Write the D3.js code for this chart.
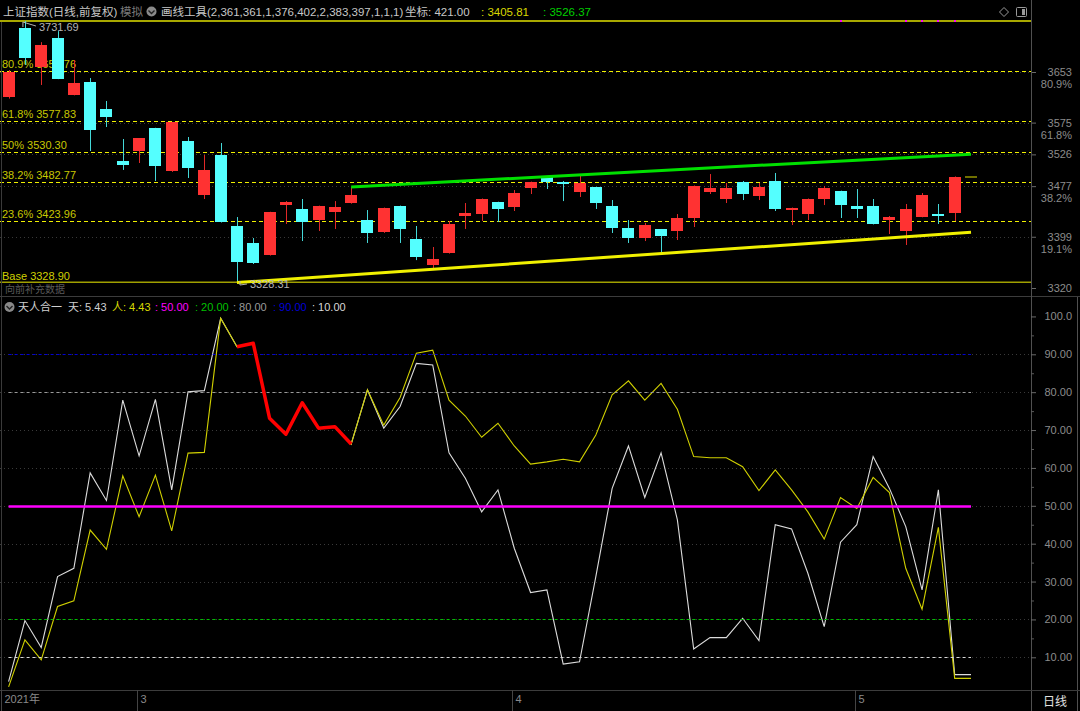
<!DOCTYPE html>
<html><head><meta charset="utf-8">
<script src="https://cdn.jsdelivr.net/npm/d3@7"></script>
<style>html,body{margin:0;padding:0;background:#000;overflow:hidden}</style>
</head><body><svg id="c" width="1080" height="711"></svg>
<script>
// ---------------- DATA ----------------
const dates = ["2021-02-10","2021-02-18","2021-02-19","2021-02-22","2021-02-23","2021-02-24","2021-02-25","2021-02-26",
"2021-03-01","2021-03-02","2021-03-03","2021-03-04","2021-03-05","2021-03-08","2021-03-09","2021-03-10","2021-03-11","2021-03-12",
"2021-03-15","2021-03-16","2021-03-17","2021-03-18","2021-03-19","2021-03-22","2021-03-23","2021-03-24","2021-03-25","2021-03-26",
"2021-03-29","2021-03-30","2021-03-31","2021-04-01","2021-04-02","2021-04-06","2021-04-07","2021-04-08","2021-04-09","2021-04-12",
"2021-04-13","2021-04-14","2021-04-15","2021-04-16","2021-04-19","2021-04-20","2021-04-21","2021-04-22","2021-04-23","2021-04-26",
"2021-04-27","2021-04-28","2021-04-29","2021-04-30","2021-05-06","2021-05-07","2021-05-10","2021-05-11","2021-05-12","2021-05-13","2021-05-14"];
const openV = [3614,3720.8,3660.7,3705.4,3617.5,3637.6,3596,3515.8,3531.2,3566.7,3500.4,3546.6,3463.4,3525,3415.6,3389.4,3370.9,3448,3441.8,3424.8,
3437.1,3451,3424.8,3406.3,3446.4,3395.5,3355.4,3373.9,3431,3434,3452.6,3444.9,3474.2,3491.1,3483.4,3468,3475.7,3446.4,3412.5,3397,
3411,3407.9,3427.9,3468,3457.2,3483.4,3461.8,3485,3440.2,3434,3457.2,3469.5,3446.4,3446.4,3424.8,3407.9,3429.4,3434,3435.6];
const highV = [3656,3731.69,3699,3716,3671.5,3643.7,3608.3,3549.7,3551.2,3567,3576,3552.8,3525,3543.5,3429.4,3397,3437.5,3454,3457.2,3447,
3454,3475.7,3440.2,3444,3447,3415.6,3383.2,3423.3,3451,3458,3453,3471,3484,3492,3485,3494.2,3476,3455.6,3424.8,3420.3,
3411,3434,3478,3495.7,3481.9,3485,3481.9,3497.3,3444,3458,3477.2,3470,3472.6,3457.2,3431,3449.5,3466.4,3449.5,3492];
const lowV = [3612,3664,3633,3642,3617,3531.2,3568.2,3502,3512.7,3485,3499,3489.6,3457.2,3421,3328.31,3357,3370,3418.7,3392.4,3407.9,
3411,3450,3389.4,3405,3389.4,3363,3347.7,3373,3411,3423.3,3421.7,3438.7,3464.9,3472.6,3454,3460.3,3441.8,3404.8,3389.4,3392.4,
3373.9,3394,3414,3464.9,3451,3455.6,3455.6,3438.7,3417.1,3424.8,3447.9,3427.9,3427.9,3418,3403.2,3386.3,3429,3418.7,3423.3];
const closeV = [3653,3674.6,3694.6,3642.2,3636,3563.6,3583.6,3509.6,3551.2,3508,3575.9,3505,3502,3421.7,3360,3358.5,3437.1,3452.6,3421.7,3446.4,
3444.9,3463.4,3404.8,3443.3,3411,3367.8,3364.7,3418.7,3435.6,3457.2,3441.8,3466.4,3483.4,3483.4,3480.3,3481.9,3451,3412.5,3397,3417.1,
3400.1,3427.9,3477.2,3474.2,3474.2,3464.9,3475.7,3441.8,3443.3,3457.2,3474.2,3447.9,3441.8,3418.7,3429.4,3441.8,3463.4,3431,3491.1];

// indicator 天人合一 (60 slots, last is the pending day)
const tianV = [3.6,19.7,12.6,31.3,33.5,58.7,51.4,77.9,63.2,78.1,54.2,80.1,80.4,99.5,92.0,92.9,73.1,68.9,77.2,70.5,
70.9,66.3,80.6,70.5,76.2,87.6,87.2,64.0,57.3,48.4,54.2,38.8,27.1,27.8,8.2,8.8,31.3,54.6,65.8,52.2,
64.0,46.3,12.2,15.2,15.2,20.3,14.4,45.0,43.9,32.2,18.1,40.4,45.0,63.0,54.6,44.5,27.8,54.2,5.43,5.43];
const renV = [2.2,14.6,9.3,23.4,24.9,43.6,38.5,57.9,47.1,58.1,43.4,63.9,64.1,99.5,92.0,92.9,73.1,68.9,77.2,70.5,
70.9,66.3,80.6,71.3,78.6,90.3,91.1,77.9,73.7,68.1,71.8,65.8,61.0,61.6,62.3,61.6,68.7,79.3,83.0,77.9,
82.3,75.5,63.0,62.7,62.7,60.3,54.0,59.5,54.2,48.4,41.2,52.2,49.3,57.5,53.5,33.5,22.7,44.3,4.43,4.43];
const redRange = [14, 21];

const fibPct = ["80.9%","61.8%","50%","38.2%","23.6%"];
const fibVal = [3654.76,3577.83,3530.30,3482.77,3423.96];
const baseVal = 3328.90, topVal = 3731.69;
const greenTrend = [[21,3475.7],[59,3526.37]];
const yellowTrend = [[14,3328.31],[59,3405.81]];
const markIdx = [51,55,56,57,58];

const priceTicks = [3653,3575,3526,3477,3399,3320];
const priceTickPct = ["80.9%","61.8%","","38.2%","19.1%",""];
const indTicks = [100,90,80,70,60,50,40,30,20,10];
const indMinor = [95,85,75,65,55,45,35,25,15,5];
const refLevels = [50,20,80,90,10];
const refColors = ["#ff00ff","#00c000","#9a9a9a","#0000d8","#d8d8d8"];
const monthIdx = [0,8,31,52];
const monthLabel = ["2021年","3","4","5"];

// ---------------- DRAW ----------------
const W=1080,H=711, AX=1031;
const FONT='"Liberation Sans","Noto Sans CJK SC",Arial,sans-serif';
const svg=d3.select("#c").style("font-family",FONT);
svg.append("rect").attr("width",W).attr("height",H).attr("fill","#000");

const x=d3.scaleLinear().domain([0,59]).range([8.6,971]);
const yP=d3.scaleLinear().domain([3320,3653]).range([288,72]);
const yI=d3.scaleLinear().domain([10,90]).range([657.3,354.3]);
const cx=i=>Math.round(x(i))+0.5;

const defs=svg.append("defs");
defs.append("clipPath").attr("id","cp").append("rect").attr("x",0).attr("y",20).attr("width",AX).attr("height",275);
defs.append("clipPath").attr("id","ci").append("rect").attr("x",0).attr("y",316).attr("width",AX).attr("height",374);

// ---- header ----
const hdr=svg.append("g").attr("font-size","11.5px");
hdr.append("text").attr("x",3).attr("y",16).attr("fill","#c8c8c8").text("上证指数(日线,前复权)");
hdr.append("text").attr("x",120).attr("y",16).attr("fill","#7a7a7a").text("模拟");
hdr.append("circle").attr("cx",151.5).attr("cy",11.5).attr("r",5).attr("fill","#8a8a8a");
hdr.append("path").attr("d","M148.5,10.5 L151.5,13.5 L154.5,10.5").attr("stroke","#222").attr("stroke-width",1.4).attr("fill","none");
hdr.append("text").attr("x",161).attr("y",16).attr("fill","#c8c8c8").text("画线工具(2,361,361,1,376,402,2,383,397,1,1,1)");
hdr.append("text").attr("x",405).attr("y",16).attr("fill","#c8c8c8").text("坐标: 421.00");
hdr.append("text").attr("x",481).attr("y",16).attr("fill","#d8d800").text(": "+yellowTrend[1][1].toFixed(2));
hdr.append("text").attr("x",543).attr("y",16).attr("fill","#00d000").text(": "+greenTrend[1][1].toFixed(2));
hdr.append("path").attr("d","M1004,7.5 L1008.5,12 L1004,16.5 L999.5,12 Z").attr("stroke","#9a9a9a").attr("fill","none");
hdr.append("rect").attr("x",1016.5).attr("y",7.5).attr("width",10).attr("height",9).attr("stroke","#9a9a9a").attr("fill","none").attr("rx",1);
hdr.append("rect").attr("x",1022).attr("y",9).attr("width",3).attr("height",6).attr("fill","#9a9a9a");

// ---- price pane ----
const pp=svg.append("g").attr("clip-path","url(#cp)");
pp.selectAll("line.pg").data(priceTicks.slice(0,5)).join("line")
  .attr("x1",0).attr("x2",AX).attr("y1",d=>Math.round(yP(d))+0.5).attr("y2",d=>Math.round(yP(d))+0.5)
  .attr("stroke","#383838").attr("stroke-dasharray","1,3");
pp.selectAll("line.fib").data(fibVal).join("line")
  .attr("x1",0).attr("x2",AX).attr("y1",d=>Math.round(yP(d))+0.5).attr("y2",d=>Math.round(yP(d))+0.5)
  .attr("stroke","#f0f000").attr("stroke-width",1.1).attr("stroke-dasharray","4,3");
pp.append("line").attr("x1",0).attr("x2",AX).attr("y1",yP(topVal)).attr("y2",yP(topVal)).attr("stroke","#e0e000").attr("stroke-width",1.5);
pp.append("line").attr("x1",0).attr("x2",AX).attr("y1",yP(baseVal)).attr("y2",yP(baseVal)).attr("stroke","#a0a000").attr("stroke-width",1.6);
pp.selectAll("text.fib").data(fibVal).join("text")
  .attr("x",2).attr("y",d=>yP(d)-3).attr("fill","#c8c800").attr("font-size","11px")
  .text((d,i)=>fibPct[i]+" "+d.toFixed(2));
pp.append("text").attr("x",5).attr("y",293).attr("fill","#5a5a5a").attr("font-size","10px").text("向前补充数据");
pp.append("text").attr("x",2).attr("y",280).attr("fill","#d0d000").attr("font-size","11px").text("Base "+baseVal.toFixed(2));

// candles
const UP="#ff3232", DN="#54ffff";
const cg=pp.append("g");
const idx=d3.range(closeV.length);
cg.selectAll("line.w").data(idx).join("line")
  .attr("x1",cx).attr("x2",cx).attr("y1",i=>yP(highV[i])).attr("y2",i=>yP(lowV[i]))
  .attr("stroke",i=>closeV[i]>=openV[i]?"#e02828":"#44d8d8");
cg.selectAll("rect.b").data(idx).join("rect")
  .attr("x",i=>Math.round(x(i))-6).attr("width",12)
  .attr("y",i=>Math.round(yP(Math.max(openV[i],closeV[i]))))
  .attr("height",i=>Math.max(1.5,Math.round(Math.abs(yP(openV[i])-yP(closeV[i])))))
  .attr("fill",i=>closeV[i]>=openV[i]?UP:DN);
const last=closeV.length-1;
pp.append("line").attr("x1",x(59)-6).attr("x2",x(59)+6).attr("y1",yP(closeV[last])).attr("y2",yP(closeV[last]))
  .attr("stroke","#707000").attr("stroke-width",2);

// trend lines
const tl=d3.line().x(d=>x(d[0])).y(d=>yP(d[1]));
pp.append("path").attr("d",tl(greenTrend)).attr("stroke","#00e000").attr("stroke-width",3).attr("fill","none");
pp.append("path").attr("d",tl(yellowTrend)).attr("stroke","#f0f000").attr("stroke-width",3).attr("fill","none");

// high / low annotations
const hi=d3.maxIndex(highV), lo=d3.minIndex(lowV);
pp.append("path").attr("d",`M${x(hi)-2},27 L${x(hi)-2},22 L${x(hi)+11},26`).attr("stroke","#b0b0b0").attr("fill","none");
pp.append("text").attr("x",x(hi)+14).attr("y",31).attr("fill","#b4b4b4").attr("font-size","11px").text(highV[hi].toFixed(2));
pp.append("path").attr("d",`M${x(lo)+3},281 L${x(lo)+3},285 L${x(lo)+10},284`).attr("stroke","#b0b0b0").attr("fill","none");
pp.append("text").attr("x",x(lo)+13).attr("y",288).attr("fill","#b4b4b4").attr("font-size","11px").text(lowV[lo].toFixed(2));

svg.selectAll("rect.mk").data(markIdx).join("rect")
  .attr("x",i=>Math.round(x(i))-1).attr("y",20).attr("width",2).attr("height",2).attr("fill","#ff00ff");

// price right axis
const pa=svg.append("g").attr("transform",`translate(${AX},0)`)
  .call(d3.axisRight(yP).tickValues(priceTicks).tickSize(5).tickFormat(d3.format("d")));
pa.select(".domain").remove();
pa.selectAll(".tick line").attr("stroke","#6a6a6a");
pa.selectAll(".tick text").attr("x",41).attr("text-anchor","end").attr("fill","#8c8c8c")
  .attr("font-size","11px").attr("font-family",FONT);
pa.selectAll(".tick").append("text").attr("x",41).attr("y",12).attr("dy","0.32em").attr("text-anchor","end")
  .attr("fill","#8c8c8c").attr("font-size","11px").attr("font-family",FONT).text((d,i)=>priceTickPct[i]);

// ---- separators ----
svg.append("line").attr("x1",0).attr("x2",W).attr("y1",296.5).attr("y2",296.5).attr("stroke","#3c3c3c");
svg.append("line").attr("x1",AX+0.5).attr("x2",AX+0.5).attr("y1",0).attr("y2",H).attr("stroke","#505050");
svg.append("line").attr("x1",1077.5).attr("x2",1077.5).attr("y1",297).attr("y2",H).attr("stroke","#505050");
svg.append("line").attr("x1",1.5).attr("x2",1.5).attr("y1",22).attr("y2",690).attr("stroke","#3a3a3a");

// ---- indicator header ----
const ih=svg.append("g").attr("font-size","11px");
ih.append("circle").attr("cx",9.5).attr("cy",307).attr("r",5).attr("fill","#8a8a8a");
ih.append("path").attr("d","M6.5,306 L9.5,309 L12.5,306").attr("stroke","#222").attr("stroke-width",1.4).attr("fill","none");
ih.append("text").attr("x",18).attr("y",311).attr("fill","#d0d0d0").text("天人合一");
ih.append("text").attr("x",68).attr("y",311).attr("fill","#d0d0d0").text("天: "+tianV[59].toFixed(2));
ih.append("text").attr("x",112).attr("y",311).attr("fill","#d8d800").text("人: "+renV[59].toFixed(2));
const refX=[155,195,233,273,312];
refLevels.forEach((v,i)=>ih.append("text").attr("x",refX[i]).attr("y",311).attr("fill",refColors[i]).text(": "+v.toFixed(2)));

// ---- indicator pane ----
const ip=svg.append("g").attr("clip-path","url(#ci)");
ip.selectAll("line.ig").data(indTicks.slice(1)).join("line")
  .attr("x1",0).attr("x2",AX).attr("y1",d=>Math.round(yI(d))+0.5).attr("y2",d=>Math.round(yI(d))+0.5)
  .attr("stroke","#3a3a3a").attr("stroke-dasharray","1,3");
const ln=d3.line().x((d,i)=>x(i)).y(d=>yI(d));
ip.append("path").attr("d",ln(tianV)).attr("stroke","#dcdcdc").attr("stroke-width",1.1).attr("fill","none");
ip.append("path").attr("d",ln(renV)).attr("stroke","#d0d000").attr("stroke-width",1.1).attr("fill","none");
refLevels.forEach((v,i)=>{
  const yy=Math.round(yI(v))+0.5;
  ip.append("line").attr("x1",x(0)).attr("x2",x(59)).attr("y1",yy).attr("y2",yy)
    .attr("stroke",refColors[i]).attr("stroke-width",v===50?2.5:1)
    .attr("stroke-dasharray",v===50?null:"3,3");
});
const redLn=d3.line().x((d,i)=>x(i+redRange[0])).y(d=>yI(d));
ip.append("path").attr("d",redLn(renV.slice(redRange[0],redRange[1]+1)))
  .attr("stroke","#ff0000").attr("stroke-width",3.5).attr("fill","none").attr("stroke-linejoin","round");

// indicator right axis
const ia=svg.append("g").attr("transform",`translate(${AX},0)`)
  .call(d3.axisRight(yI).tickValues(indTicks).tickSize(5).tickFormat(d=>d===100?"100.0":d.toFixed(2)));
ia.select(".domain").remove();
ia.selectAll(".tick line").attr("stroke","#6a6a6a");
ia.selectAll(".tick text").attr("x",41).attr("text-anchor","end").attr("fill","#8c8c8c")
  .attr("font-size","11px").attr("font-family",FONT);
const im=svg.append("g").attr("transform",`translate(${AX},0)`)
  .call(d3.axisRight(yI).tickValues(indMinor.filter(v=>v>5)).tickSize(3).tickFormat(""));
im.select(".domain").remove();
im.selectAll(".tick line").attr("stroke","#5a5a5a");

// ---- bottom axis ----
svg.append("line").attr("x1",0).attr("x2",W).attr("y1",690.5).attr("y2",690.5).attr("stroke","#3c3c3c");
const ba=svg.append("g").attr("transform","translate(0,690)")
  .call(d3.axisBottom(x).tickValues(monthIdx).tickSize(21).tickFormat((d,i)=>monthLabel[i]));
ba.select(".domain").remove();
ba.selectAll(".tick").attr("transform",d=>`translate(${d===0?1.5:Math.round(x(d))-1.5},0)`);
ba.selectAll(".tick line").attr("stroke","#444");
ba.selectAll(".tick text").attr("x",3).attr("y",5).attr("dy","0.71em").attr("text-anchor","start")
  .attr("fill","#8a8a8a").attr("font-size","11px").attr("font-family",FONT);
svg.append("text").attr("x",1043).attr("y",706).attr("fill","#e0e0e0").attr("font-size","12px").text("日线");
</script></body></html>
